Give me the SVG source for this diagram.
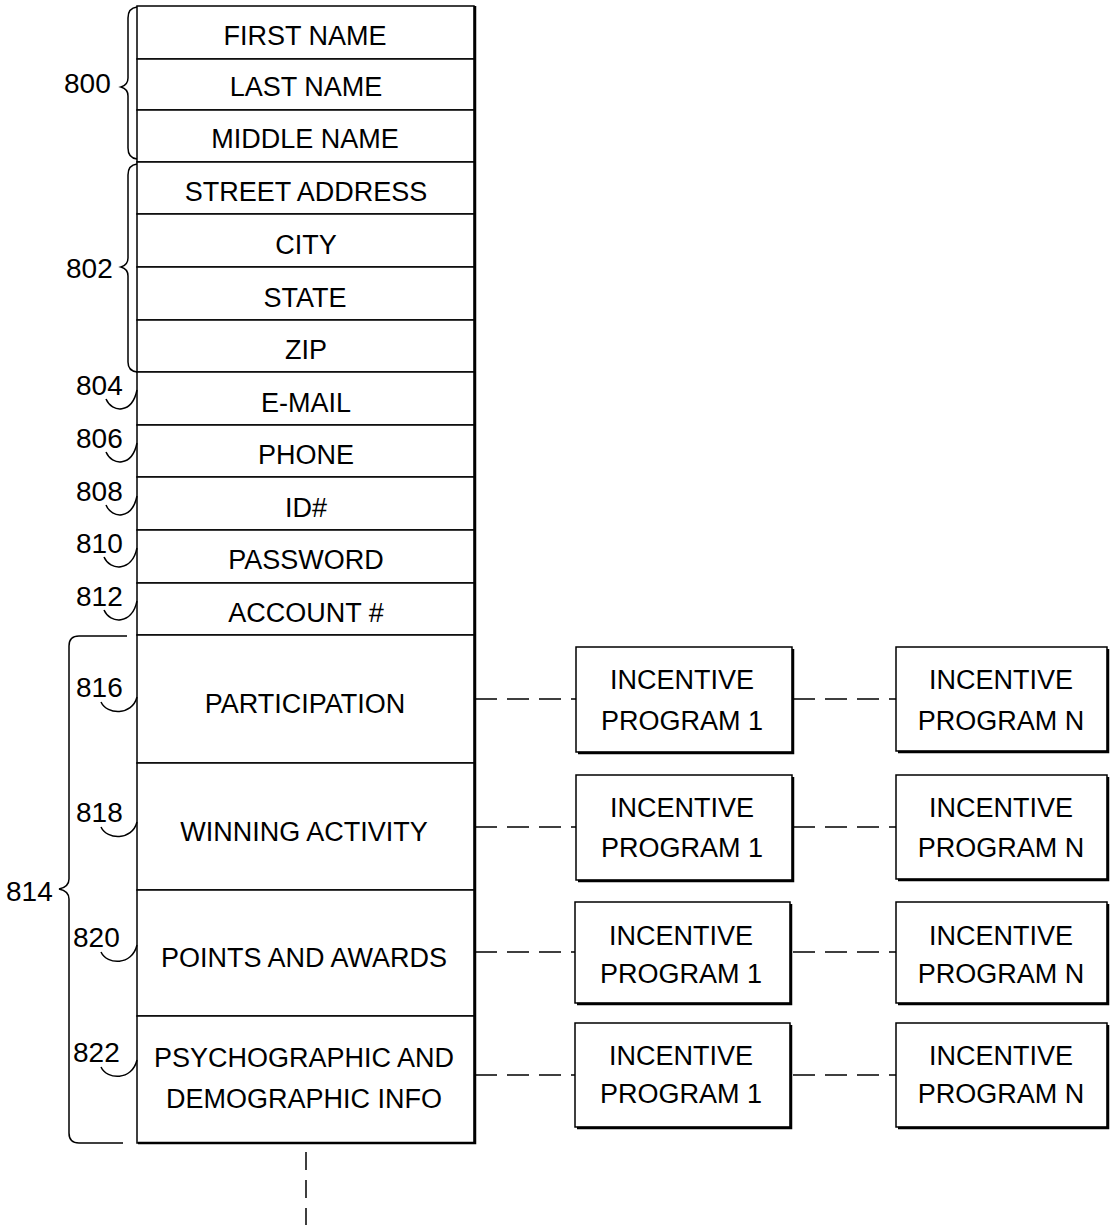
<svg xmlns="http://www.w3.org/2000/svg" width="1110" height="1225" viewBox="0 0 1110 1225">
<style>
.row{fill:#fff;stroke:#000;stroke-width:1.5}
.t{font-family:"Liberation Sans",Arial,sans-serif;font-size:27px;fill:#000;text-anchor:middle}
.lbl{font-family:"Liberation Sans",Arial,sans-serif;font-size:28px;fill:#000}
.ln{fill:none;stroke:#000;stroke-width:1.5}
.dash{fill:none;stroke:#000;stroke-width:1.5;stroke-dasharray:22 10}
.box{fill:#fff;stroke:#000;stroke-width:1.5}
.sh{fill:none;stroke:#000;stroke-width:2.5}
</style>
<rect width="1110" height="1225" fill="#fff"/>
<g id="connectors">
<line class="dash" x1="475" y1="699" x2="576" y2="699"/>
<line class="dash" x1="793" y1="699" x2="896" y2="699"/>
<line class="dash" x1="475" y1="827" x2="576" y2="827"/>
<line class="dash" x1="793" y1="827" x2="896" y2="827"/>
<line class="dash" x1="475" y1="952" x2="576" y2="952"/>
<line class="dash" x1="793" y1="952" x2="896" y2="952"/>
<line class="dash" x1="475" y1="1075" x2="576" y2="1075"/>
<line class="dash" x1="793" y1="1075" x2="896" y2="1075"/>
<line class="ln" x1="306" y1="1152" x2="306" y2="1225" stroke-dasharray="18 10"/>
</g>
<g id="table">
<g id="first-name"><rect class="row" x="137" y="6" width="337" height="53"/><text class="t" x="305" y="45">FIRST NAME</text></g>
<g id="last-name"><rect class="row" x="137" y="59" width="337" height="51"/><text class="t" x="306" y="96">LAST NAME</text></g>
<g id="middle-name"><rect class="row" x="137" y="110" width="337" height="52"/><text class="t" x="305" y="148">MIDDLE NAME</text></g>
<g id="street-address"><rect class="row" x="137" y="162" width="337" height="52"/><text class="t" x="306" y="201">STREET ADDRESS</text></g>
<g id="city"><rect class="row" x="137" y="214" width="337" height="53"/><text class="t" x="306" y="254">CITY</text></g>
<g id="state"><rect class="row" x="137" y="267" width="337" height="53"/><text class="t" x="305" y="307">STATE</text></g>
<g id="zip"><rect class="row" x="137" y="320" width="337" height="52"/><text class="t" x="306" y="359">ZIP</text></g>
<g id="email"><rect class="row" x="137" y="372" width="337" height="53"/><text class="t" x="306" y="412">E-MAIL</text></g>
<g id="phone"><rect class="row" x="137" y="425" width="337" height="52"/><text class="t" x="306" y="464">PHONE</text></g>
<g id="id"><rect class="row" x="137" y="477" width="337" height="53"/><text class="t" x="306" y="517">ID#</text></g>
<g id="password"><rect class="row" x="137" y="530" width="337" height="53"/><text class="t" x="306" y="569">PASSWORD</text></g>
<g id="account"><rect class="row" x="137" y="583" width="337" height="52"/><text class="t" x="306" y="622">ACCOUNT #</text></g>
<g id="participation"><rect class="row" x="137" y="635" width="337" height="128"/><text class="t" x="305" y="713">PARTICIPATION</text></g>
<g id="winning-activity"><rect class="row" x="137" y="763" width="337" height="127"/><text class="t" x="304" y="841">WINNING ACTIVITY</text></g>
<g id="points-awards"><rect class="row" x="137" y="890" width="337" height="126"/><text class="t" x="304" y="967">POINTS AND AWARDS</text></g>
<g id="psychographic"><rect class="row" x="137" y="1016" width="337" height="127"/><text class="t" x="304" y="1067">PSYCHOGRAPHIC AND</text><text class="t" x="304" y="1108">DEMOGRAPHIC INFO</text></g>
<polyline class="sh" points="138,1143 475,1143 475,6" stroke-width="3"/>
</g>
<g id="incentive-boxes">
<g id="ip1-a"><rect class="box" x="576" y="647" width="216" height="105"/><polyline class="sh" points="578,753 793,753 793,649"/><text class="t" x="682" y="689">INCENTIVE</text><text class="t" x="682" y="730">PROGRAM 1</text></g>
<g id="ipn-a"><rect class="box" x="896" y="647" width="211" height="104"/><polyline class="sh" points="898,752 1108,752 1108,649"/><text class="t" x="1001" y="689">INCENTIVE</text><text class="t" x="1001" y="730">PROGRAM N</text></g>
<g id="ip1-b"><rect class="box" x="576" y="775" width="216" height="105"/><polyline class="sh" points="578,881 793,881 793,777"/><text class="t" x="682" y="817">INCENTIVE</text><text class="t" x="682" y="857">PROGRAM 1</text></g>
<g id="ipn-b"><rect class="box" x="896" y="775" width="211" height="104"/><polyline class="sh" points="898,880 1108,880 1108,777"/><text class="t" x="1001" y="817">INCENTIVE</text><text class="t" x="1001" y="857">PROGRAM N</text></g>
<g id="ip1-c"><rect class="box" x="575" y="902" width="215" height="101"/><polyline class="sh" points="577,1004 791,1004 791,904"/><text class="t" x="681" y="945">INCENTIVE</text><text class="t" x="681" y="983">PROGRAM 1</text></g>
<g id="ipn-c"><rect class="box" x="896" y="902" width="211" height="101"/><polyline class="sh" points="898,1004 1108,1004 1108,904"/><text class="t" x="1001" y="945">INCENTIVE</text><text class="t" x="1001" y="983">PROGRAM N</text></g>
<g id="ip1-d"><rect class="box" x="575" y="1023" width="215" height="104"/><polyline class="sh" points="577,1128 791,1128 791,1025"/><text class="t" x="681" y="1065">INCENTIVE</text><text class="t" x="681" y="1103">PROGRAM 1</text></g>
<g id="ipn-d"><rect class="box" x="896" y="1023" width="211" height="104"/><polyline class="sh" points="898,1128 1108,1128 1108,1025"/><text class="t" x="1001" y="1065">INCENTIVE</text><text class="t" x="1001" y="1103">PROGRAM N</text></g>
</g>
<g id="labels">
<g id="l800"><path class="ln" d="M137,7 Q128,8 128,18 V78 Q128,85 121,87 Q128,89 128,96 V148 Q128,158 137,159"/><text class="lbl" x="64" y="93">800</text></g>
<g id="l802"><path class="ln" d="M137,164 Q128,165 128,175 V258 Q128,265 121,267 Q128,269 128,276 V362 Q128,371 137,372"/><text class="lbl" x="66" y="278">802</text></g>
<g id="l804"><path class="ln" d="M106,399 C112,413 132,414 137,390"/><text class="lbl" x="76" y="395">804</text></g>
<g id="l806"><path class="ln" d="M106,452 C112,466 132,467 137,443"/><text class="lbl" x="76" y="448">806</text></g>
<g id="l808"><path class="ln" d="M106,505 C112,519 132,520 137,496"/><text class="lbl" x="76" y="501">808</text></g>
<g id="l810"><path class="ln" d="M104,557 C110,571 132,572 137,548"/><text class="lbl" x="76" y="553">810</text></g>
<g id="l812"><path class="ln" d="M104,610 C110,624 132,625 137,601"/><text class="lbl" x="76" y="606">812</text></g>
<g id="l814"><path class="ln" d="M127,636 H79 Q69,636 69,646 V879 Q69,887 59,889 Q69,891 69,899 V1133 Q69,1143 79,1143 H123"/><text class="lbl" x="6" y="901">814</text></g>
<g id="l816"><path class="ln" d="M101,702 C107,715 132,716 137,697"/><text class="lbl" x="76" y="697">816</text></g>
<g id="l818"><path class="ln" d="M101,827 C107,840 132,841 137,822"/><text class="lbl" x="76" y="822">818</text></g>
<g id="l820"><path class="ln" d="M101,952 C107,965 132,966 137,945"/><text class="lbl" x="73" y="947">820</text></g>
<g id="l822"><path class="ln" d="M101,1067 C107,1080 132,1081 137,1060"/><text class="lbl" x="73" y="1062">822</text></g>
</g>
</svg>
